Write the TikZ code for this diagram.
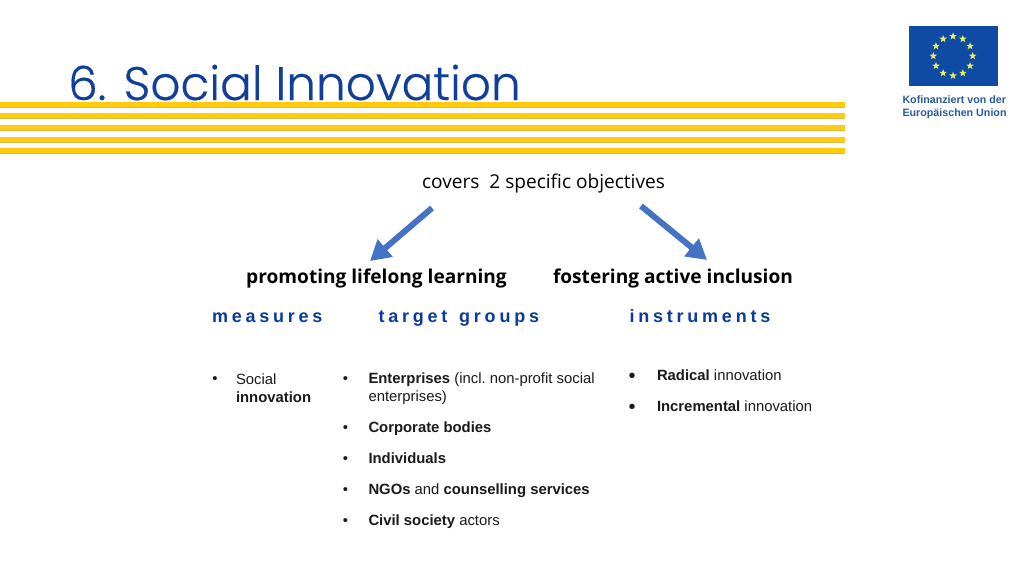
\documentclass[tikz,border=0pt]{standalone}
\usepackage{fontspec}
\setmainfont{Liberation Sans}
\newfontfamily\ttlfont[BoldFont={Poppins Light},BoldFeatures={FakeBold=0.35}]{Poppins Light}
\newfontfamily\opfont{Open Sans}
\usetikzlibrary{arrows.meta,shapes.geometric}
\definecolor{eublue}{HTML}{0F3F98}
\definecolor{capblue}{HTML}{2A5A9E}
\definecolor{flagblue}{HTML}{0F4AA5}
\definecolor{stary}{HTML}{E6EE60}
\definecolor{stripe}{HTML}{FFCB0A}
\definecolor{stripeedge}{HTML}{DDB84A}
\definecolor{arrowblue}{HTML}{4472C4}
\definecolor{headblue}{HTML}{0A3A9E}
\definecolor{bodyk}{HTML}{1A1A1A}
\tikzset{
  bigarrow/.style={draw=arrowblue,line width=6pt,-{Triangle[length=20pt,width=22pt]}},
  lab/.style={anchor=base west,inner sep=0pt,outer sep=0pt,text=bodyk,font=\frenchspacing\fontsize{14.85}{17}\selectfont},
  bul/.style={anchor=base,inner sep=0pt,outer sep=0pt,text=bodyk,font=\fontsize{14.85}{17}\selectfont},
  head/.style={anchor=base west,inner sep=0pt,outer sep=0pt,text=headblue,font=\fontsize{18}{20}\selectfont\bfseries\addfontfeature{LetterSpace=21}},
  obj/.style={anchor=base,inner sep=0pt,outer sep=0pt,text=black,font=\opfont\fontsize{19.1}{22}\selectfont\bfseries},
  stripebar/.style={fill=stripe,draw=none},
  euflag/.style={fill=flagblue,draw=none},
  eustar/.style={star,star points=5,star point ratio=2.5,fill=stary,draw=none,inner sep=0pt,minimum size=8pt},
  flagcap/.style={anchor=base west,inner sep=0pt,outer sep=0pt,text=capblue,font=\fontsize{10.7}{12}\selectfont\bfseries}
}
\begin{document}
\begin{tikzpicture}[x=1pt,y=-1pt]
\useasboundingbox (0,0) rectangle (1024,576);
\fill[white] (0,0) rectangle (1024,576);
% title
\node[anchor=base west,inner sep=0pt,text=eublue,font=\ttlfont\bfseries\fontsize{47}{54}\selectfont] (title) at (68,100) {6. Social Innovation};
% stripes
\foreach \yy in {101.7,113.3,125,136.5,148}{
  \fill[stripeedge] (0,\yy+4.5) rectangle (845,\yy+6);
  \fill[stripebar] (0,\yy) rectangle (845,\yy+5);
}
% flag
\fill[euflag] (908.5,26) rectangle (998,85.7);
\foreach \a in {0,30,...,330}{
  \node[eustar] (s\a) at ({953+19.7*cos(\a)},{56+19.7*sin(\a)}) {};
}
\node[flagcap] (k1) at (902.5,103) {Kofinanziert von der};
\node[flagcap] (k2) at (902.5,116) {Europäischen Union};
% objectives
\node[anchor=base,inner sep=0pt,text=black,font=\opfont\fontsize{19.1}{22}\selectfont] (cov) at (543.5,188) {covers\ \ 2 specific objectives};
\node[obj] (ob1) at (376.5,283) {promoting lifelong learning};
\node[obj] (ob2) at (673,283) {fostering active inclusion};
\coordinate (a1s) at (432,208);
\coordinate (a1e) at (370,261);
\coordinate (a2s) at (641,206);
\coordinate (a2e) at (707,260);
\draw[bigarrow] (a1s) -- (a1e);
\draw[bigarrow] (a2s) -- (a2e);
% headers
\node[head] (h1) at (212,322) {measures};
\node[head] (h2) at (378.5,322) {target\kern3pt\ groups};
\node[head] (h3) at (629.5,322) {instruments};
% column 1
\node[bul] (b1) at (215,383) {•};
\node[lab] (t1) at (236,384) {Social};
\node[lab] (t1b) at (236,402) {\bfseries innovation};
% column 2
\node[bul] (b2) at (345.5,383) {•};
\node[lab] (t2) at (368.5,383) {\textbf{Enterprises} (incl. non-profit social};
\node[lab] (t2b) at (368.5,401) {enterprises)};
\node[bul] (b3) at (345.5,432) {•};
\node[lab] (t3) at (368.5,432) {\textbf{Corporate bodies}};
\node[bul] (b4) at (345.5,463) {•};
\node[lab] (t4) at (368.5,463) {\textbf{Individuals}};
\node[bul] (b5) at (345.5,494) {•};
\node[lab] (t5) at (368.5,494) {\textbf{NGOs} and \textbf{counselling services}};
\node[bul] (b6) at (345.5,525) {•};
\node[lab] (t6) at (368.5,525) {\textbf{Civil society} actors};
% column 3
\node[bul,font=\fontsize{20}{20}\selectfont] (b7) at (632,382.5) {•};
\node[lab] (t7) at (657,380) {\textbf{Radical} innovation};
\node[bul,font=\fontsize{20}{20}\selectfont] (b8) at (632,413) {•};
\node[lab] (t8) at (657,411) {\textbf{Incremental} innovation};
\end{tikzpicture}
\end{document}
